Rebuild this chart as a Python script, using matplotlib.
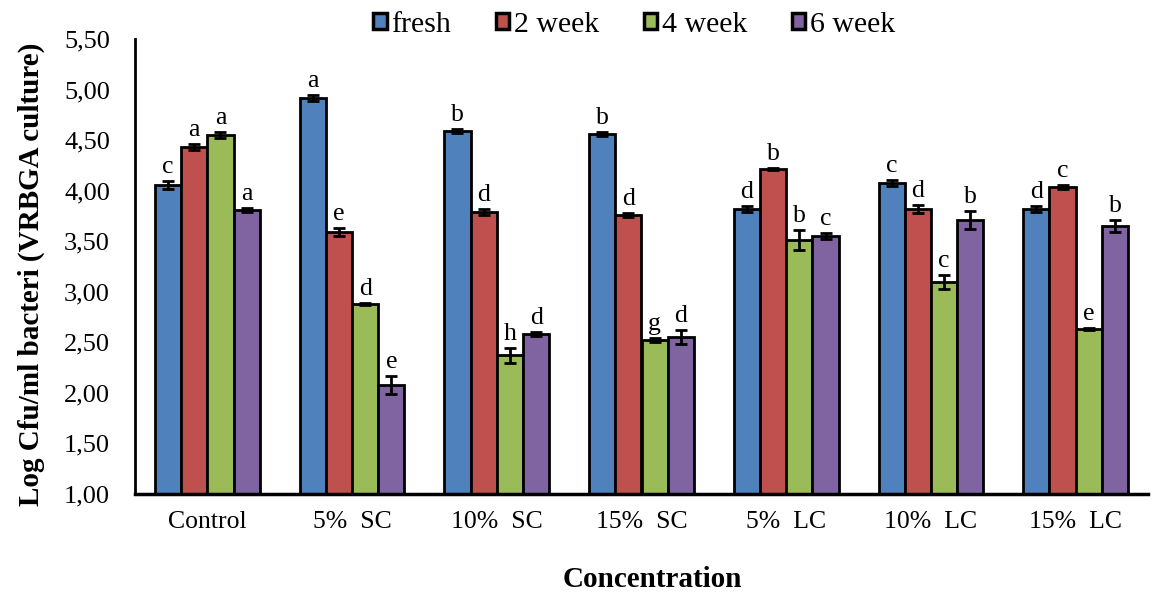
import matplotlib
matplotlib.use("Agg")
import matplotlib.pyplot as plt
import numpy as np

categories = ["Control", "5%  SC", "10%  SC", "15%  SC", "5%  LC", "10%  LC", "15%  LC"]
series_names = ["fresh", "2 week", "4 week", "6 week"]
fresh = [4.06, 4.92, 4.59, 4.56, 3.82, 4.08, 3.82]
week2 = [4.43, 3.59, 3.79, 3.76, 4.21, 3.82, 4.04]
week4 = [4.55, 2.88, 2.37, 2.52, 3.51, 3.10, 2.63]
week6 = [3.81, 2.08, 2.58, 2.55, 3.55, 3.71, 3.65]
err_fresh = [0.04, 0.03, 0.02, 0.02, 0.03, 0.03, 0.03]
err_week2 = [0.03, 0.04, 0.03, 0.02, 0.01, 0.04, 0.02]
err_week4 = [0.03, 0.01, 0.07, 0.02, 0.10, 0.07, 0.01]
err_week6 = [0.02, 0.09, 0.02, 0.07, 0.03, 0.09, 0.06]
let_fresh = ["c", "a", "b", "b", "d", "c", "d"]
let_week2 = ["a", "e", "d", "d", "b", "d", "c"]
let_week4 = ["a", "d", "h", "g", "b", "c", "e"]
let_week6 = ["a", "e", "d", "d", "c", "b", "b"]
yticks = [1.0, 1.5, 2.0, 2.5, 3.0, 3.5, 4.0, 4.5, 5.0, 5.5]

colors = ["#4F81BD", "#C0504D", "#9BBB59", "#8064A2"]
values = [fresh, week2, week4, week6]
errors = [err_fresh, err_week2, err_week4, err_week6]
letters = [let_fresh, let_week2, let_week4, let_week6]

plt.rcParams['font.family'] = ['Liberation Serif', 'DejaVu Serif']

fig = plt.figure(figsize=(11.55, 5.93), dpi=100)
ax = fig.add_axes([135/1155, 1 - 494/593, (1148 - 135)/1155, (494 - 39)/593])

x = np.arange(len(categories))
w = 0.181
base = 1.0
for i in range(4):
    xs = x + (i - 1.5) * w
    heights = np.array(values[i]) - base
    ax.bar(xs, heights, w, bottom=base, color=colors[i], edgecolor="black",
           linewidth=2, label=series_names[i], zorder=2)
    ax.errorbar(xs, values[i], yerr=errors[i], fmt="none", ecolor="black",
                elinewidth=2, capsize=4.5, capthick=2, zorder=3)
    for xi, v, e, l in zip(xs, values[i], errors[i], letters[i]):
        ax.text(xi, v + e + 0.03, l, ha="center", va="bottom", fontsize=18.5)

ax.set_xlim(-0.5, len(categories) - 0.5)
ax.set_ylim(1.0, 5.5)
ax.set_yticks(yticks)
ax.set_yticklabels([f"{t:.2f}".replace(".", ",") for t in yticks], fontsize=19)
ax.set_xticks(x)
ax.set_xticklabels(categories, fontsize=18.5)
ax.tick_params(axis="x", length=0, pad=12)
ax.tick_params(axis="y", length=0, pad=18)
for s in ["top", "right"]:
    ax.spines[s].set_visible(False)
ax.spines["left"].set_linewidth(2)
ax.spines["bottom"].set_linewidth(2.5)

ax.set_xlabel("Concentration", fontsize=21, fontweight="bold")
ax.xaxis.set_label_coords(0.511, -0.158)
ax.set_ylabel("Log Cfu/ml bacteri (VRBGA culture)", fontsize=21, fontweight="bold")
ax.yaxis.set_label_coords(-0.089, 0.4835)

leg = fig.legend(loc="upper center", bbox_to_anchor=(0.549, 1.025), ncol=4, frameon=False,
                 fontsize=21.5, handlelength=0.45, handleheight=0.45, handletextpad=0.15,
                 columnspacing=1.5)
for h in leg.legend_handles:
    h.set_linewidth(2.5)

fig.savefig("out.png", dpi=100)
